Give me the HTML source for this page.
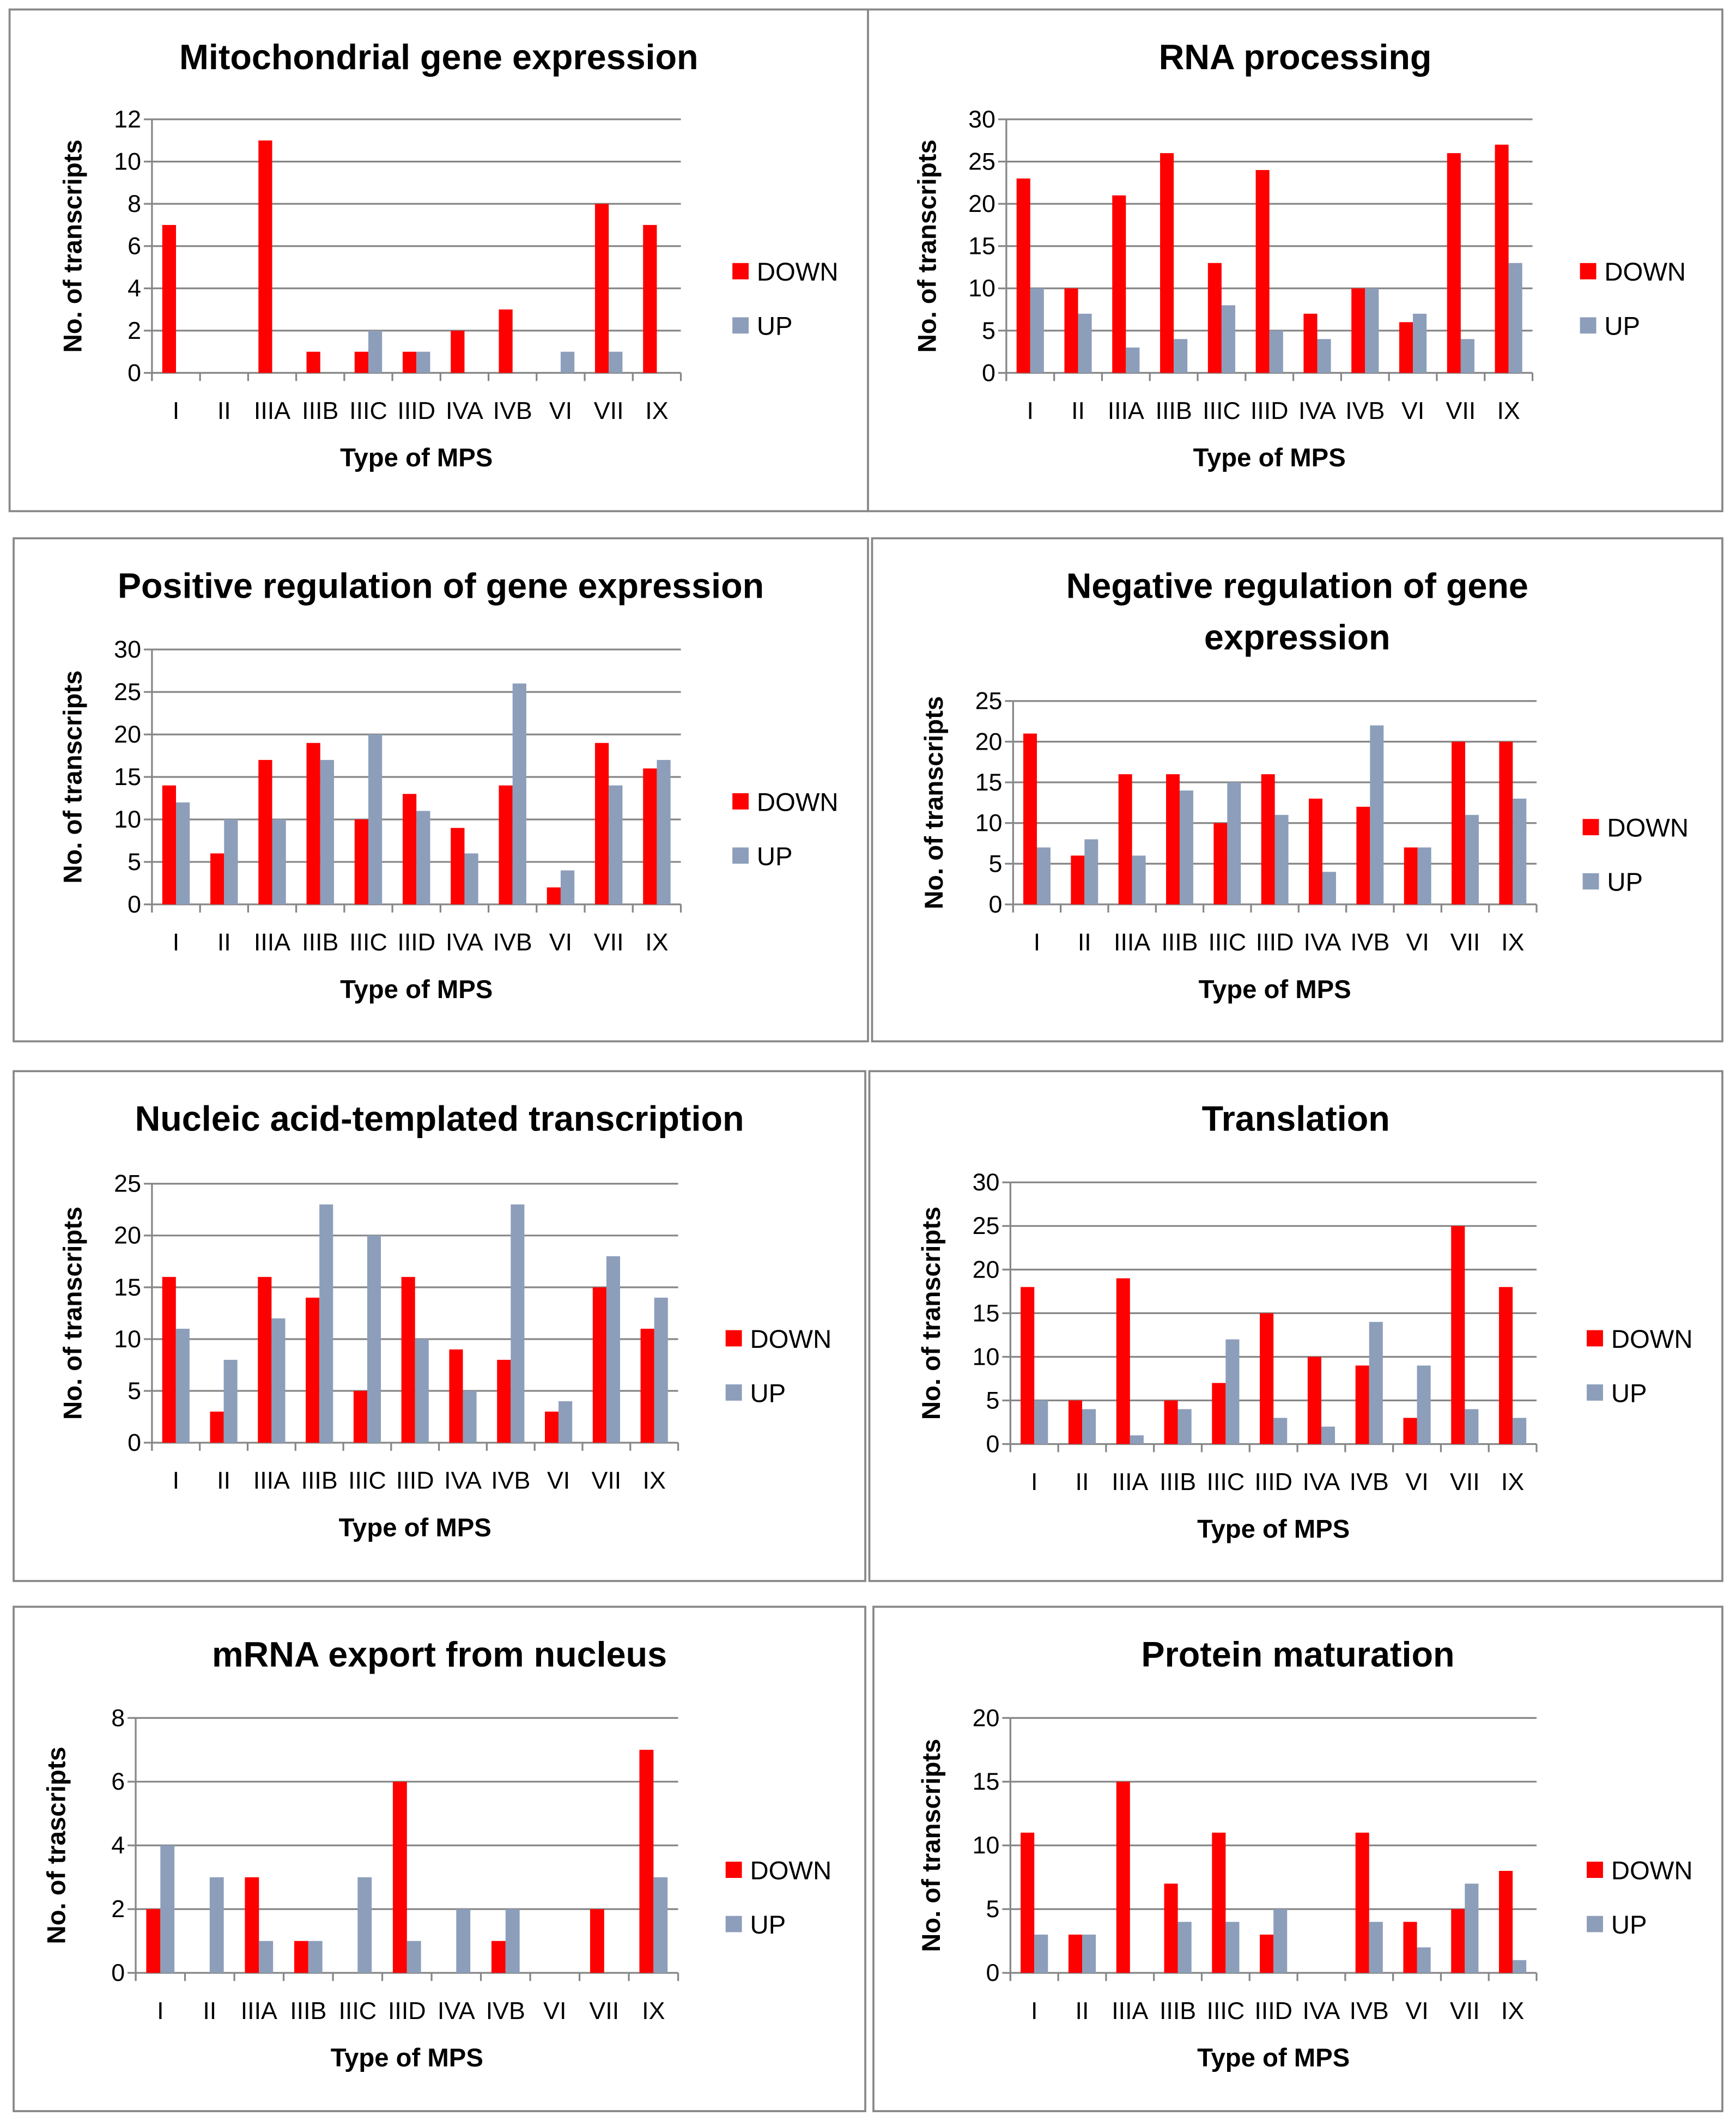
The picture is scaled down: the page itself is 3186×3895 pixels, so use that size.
<!DOCTYPE html>
<html><head><meta charset="utf-8"><style>
html,body{margin:0;padding:0;background:#fff}
svg{display:block}
text{font-family:"Liberation Sans",sans-serif}
</style></head><body>
<svg id="root" width="3186" height="3895" viewBox="0 0 1280 1565" xmlns="http://www.w3.org/2000/svg"></svg>
<script>
const categories=["I","II","IIIA","IIIB","IIIC","IIID","IVA","IVB","VI","VII","IX"];
const mitoDown=[7,0,11,1,1,1,2,3,0,8,7];
const mitoUp=[0,0,0,0,2,1,0,0,1,1,0];
const rnaDown=[23,10,21,26,13,24,7,10,6,26,27];
const rnaUp=[10,7,3,4,8,5,4,10,7,4,13];
const posDown=[14,6,17,19,10,13,9,14,2,19,16];
const posUp=[12,10,10,17,20,11,6,26,4,14,17];
const negDown=[21,6,16,16,10,16,13,12,7,20,20];
const negUp=[7,8,6,14,15,11,4,22,7,11,13];
const nucDown=[16,3,16,14,5,16,9,8,3,15,11];
const nucUp=[11,8,12,23,20,10,5,23,4,18,14];
const trDown=[18,5,19,5,7,15,10,9,3,25,18];
const trUp=[5,4,1,4,12,3,2,14,9,4,3];
const mrnaDown=[2,0,3,1,0,6,0,1,0,2,7];
const mrnaUp=[4,3,1,1,3,1,2,2,0,0,3];
const protDown=[11,3,15,7,11,3,0,11,4,5,8];
const protUp=[3,3,0,4,4,5,0,4,2,7,1];

const panels=[
 {name:"mitochondrial",title:["Mitochondrial gene expression"],box:[7,7,633,370],plot:[112,88,502,275],max:12,step:2,down:mitoDown,up:mitoUp,leg:[540,200],yl:"No. of transcripts"},
 {name:"rna-processing",title:["RNA processing"],box:[640,7,630,370],plot:[742,88,1130,275],max:30,step:5,down:rnaDown,up:rnaUp,leg:[1165,200],yl:"No. of transcripts"},
 {name:"positive-regulation",title:["Positive regulation of gene expression"],box:[10,397,630,371],plot:[112,479,502,667],max:30,step:5,down:posDown,up:posUp,leg:[540,591],yl:"No. of transcripts"},
 {name:"negative-regulation",title:["Negative regulation of gene","expression"],box:[643,397,627,371],plot:[747,517,1133,667],max:25,step:5,down:negDown,up:negUp,leg:[1167,610],yl:"No. of transcripts"},
 {name:"nucleic-acid-transcription",title:["Nucleic acid-templated transcription"],box:[10,790,628,376],plot:[112,873,500,1064],max:25,step:5,down:nucDown,up:nucUp,leg:[535,987],yl:"No. of transcripts"},
 {name:"translation",title:["Translation"],box:[641,790,629,376],plot:[745,872,1133,1065],max:30,step:5,down:trDown,up:trUp,leg:[1170,987],yl:"No. of transcripts"},
 {name:"mrna-export",title:["mRNA export from nucleus"],box:[10,1185,628,372],plot:[100,1267,500,1455],max:8,step:2,down:mrnaDown,up:mrnaUp,leg:[535,1379],yl:"No. of trascripts"},
 {name:"protein-maturation",title:["Protein maturation"],box:[644,1185,626,372],plot:[745,1267,1133,1455],max:20,step:5,down:protDown,up:protUp,leg:[1170,1379],yl:"No. of transcripts"}
];
const NS="http://www.w3.org/2000/svg";
const root=document.getElementById('root');
function mk(tag,attrs,parent,txt){const e=document.createElementNS(NS,tag);for(const k in attrs)e.setAttribute(k,attrs[k]);if(txt!==undefined)e.textContent=txt;parent.appendChild(e);return e;}
const RED="#ff0000",GRAY="#8c9eba";
panels.forEach(p=>{
 const g=mk('g',{},root);
 
 
 const [bx,by,bw,bh]=p.box;
 const fr=mk('rect',{x:bx,y:by,width:bw,height:bh,fill:'#fff',stroke:'#888','stroke-width':1.5},g);
 
 
 const [x0,y0,x1,y1]=p.plot;
 const cx=(x0+x1)/2;
 p.title.forEach((t,i)=>{
  const te=mk('text',{x:bx+bw/2+(p.title.length>1?0:0),y:by+44+i*38,'text-anchor':'middle','font-size':26,'font-weight':'bold',fill:'#000'},g,t);
  
  
 });
 const yS=v=>y1-(v/p.max)*(y1-y0);
 const cw=(x1-x0)/categories.length;
 const bwid=cw/3.5;
 for(let v=0;v<=p.max;v+=p.step){
  const y=yS(v);
  const gl=mk('line',{x1:x0,x2:x1,y1:y,y2:y,stroke:'#868686','stroke-width':1.3},g);
  
  
  mk('line',{x1:x0-6,x2:x0,y1:y,y2:y,stroke:'#868686','stroke-width':1.3},g);
  const tl=mk('text',{x:x0-8,y:y+6,'text-anchor':'end','font-size':18,fill:'#000'},g,String(v));
  
  
 }
 const ax=mk('line',{x1:x0,x2:x0,y1:y0,y2:y1+6,stroke:'#868686','stroke-width':1.3},g);
 
 
 categories.forEach((c,i)=>{
  const left=x0+i*cw;
  mk('line',{x1:left,x2:left,y1:y1,y2:y1+6,stroke:'#868686','stroke-width':1.3},g);
  if(p.down[i]>0){
   const r=mk('rect',{x:left+0.75*bwid,y:yS(p.down[i]),width:bwid,height:y1-yS(p.down[i]),fill:RED},g);
   
   
  }
  if(p.up[i]>0){
   const r=mk('rect',{x:left+1.75*bwid,y:yS(p.up[i]),width:bwid,height:y1-yS(p.up[i]),fill:GRAY},g);
   
   
  }
  const xl=mk('text',{x:left+cw/2,y:y1+34,'text-anchor':'middle','font-size':18,fill:'#000'},g,c);
  
  
 });
 mk('line',{x1:x1,x2:x1,y1:y1,y2:y1+6,stroke:'#868686','stroke-width':1.3},g);
 const xa=mk('text',{x:cx,y:y1+69,'text-anchor':'middle','font-size':19,'font-weight':'bold',fill:'#000'},g,"Type of MPS");
 
 
 const ylx=x0-52, yly=(y0+y1)/2;
 const ya=mk('text',{x:ylx,y:yly,'text-anchor':'middle','font-size':19,'font-weight':'bold',fill:'#000',transform:`rotate(-90 ${ylx} ${yly})`},g,p.yl);
 
 
 const [lx,ly]=p.leg;
 const l1=mk('rect',{x:lx,y:ly-6,width:12,height:12,fill:RED},g);
 
 
 const t1=mk('text',{x:lx+18,y:ly+7,'font-size':19,fill:'#000'},g,"DOWN");
 
 
 const l2=mk('rect',{x:lx,y:ly+34,width:12,height:12,fill:GRAY},g);
 
 
 const t2=mk('text',{x:lx+18,y:ly+47,'font-size':19,fill:'#000'},g,"UP");
 
 
});
</script>
</body></html>
